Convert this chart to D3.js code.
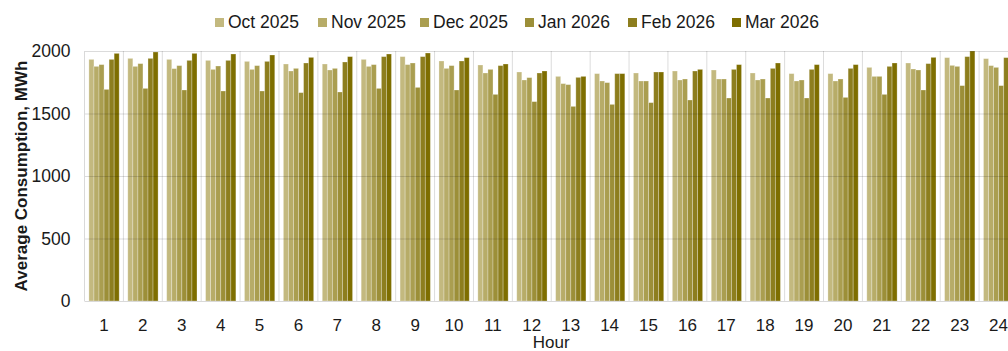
<!DOCTYPE html>
<html>
<head>
<meta charset="utf-8">
<script src="https://cdn.jsdelivr.net/npm/d3@7"></script>
<style>
  html, body { margin: 0; padding: 0; background: #fff; overflow: hidden; }
  svg { display: block; font-family: "Liberation Sans", Arial, sans-serif; }
</style>
</head>
<body>
<svg id="chart" width="1008" height="351"></svg>
<script>
// Hour-of-day categories
const hours = d3.range(1, 25).map(String);

// Series names and fills, lightest to darkest
const seriesNames = ["Oct 2025", "Nov 2025", "Dec 2025", "Jan 2026", "Feb 2026", "Mar 2026"];
const seriesColors = ["#c3b97f", "#b7ac68", "#aa9e50", "#9c8f38", "#8d7e1e", "#7e6e00"];

// Average consumption per hour (MWh)
const oct2025 = [1933, 1941, 1933, 1925, 1917, 1896, 1896, 1933, 1955, 1920, 1888, 1832, 1797, 1819, 1824, 1840, 1848, 1824, 1819, 1819, 1869, 1904, 1947, 1939];
const nov2025 = [1877, 1877, 1859, 1853, 1853, 1840, 1848, 1877, 1891, 1861, 1824, 1768, 1739, 1760, 1760, 1768, 1776, 1768, 1760, 1760, 1797, 1856, 1885, 1883];
const dec2025 = [1891, 1899, 1883, 1880, 1883, 1861, 1861, 1891, 1904, 1883, 1853, 1787, 1731, 1747, 1760, 1776, 1776, 1776, 1768, 1776, 1797, 1848, 1877, 1869];
const jan2026 = [1693, 1701, 1688, 1680, 1680, 1667, 1672, 1701, 1709, 1688, 1653, 1595, 1557, 1573, 1587, 1608, 1624, 1624, 1624, 1629, 1653, 1688, 1723, 1723];
const feb2026 = [1933, 1941, 1925, 1925, 1917, 1904, 1912, 1955, 1955, 1920, 1883, 1824, 1789, 1819, 1832, 1840, 1853, 1861, 1853, 1861, 1877, 1899, 1955, 1947];
const mar2026 = [1981, 1992, 1981, 1976, 1968, 1949, 1955, 1976, 1984, 1947, 1896, 1840, 1797, 1819, 1832, 1853, 1891, 1904, 1891, 1891, 1904, 1949, 2000, 1990];

const seriesValues = [oct2025, nov2025, dec2025, jan2026, feb2026, mar2026];
const yTicks = [0, 500, 1000, 1500, 2000];

const svg = d3.select("#chart");
const plot = { left: 84.5, right: 1018, top: 51, bottom: 301 };

const x0 = d3.scaleBand().domain(hours).range([plot.left, plot.right]).padding(0);
const step = x0.bandwidth();
const x1 = d3.scaleBand().domain(seriesNames).range([4.4, step - 4.2]).padding(0);
const y = d3.scaleLinear().domain([0, 2000]).range([plot.bottom, plot.top]);
const color = d3.scaleOrdinal().domain(seriesNames).range(seriesColors);

// Bars
const groups = svg.append("g").selectAll("g")
  .data(hours)
  .join("g")
  .attr("transform", d => `translate(${x0(d)},0)`);

groups.selectAll("rect")
  .data((h, i) => seriesNames.map((s, k) => ({ s, v: seriesValues[k][i] })))
  .join("rect")
  .attr("x", d => x1(d.s))
  .attr("width", x1.bandwidth())
  .attr("y", d => y(d.v))
  .attr("height", d => y(0) - y(d.v))
  .attr("fill", d => color(d.s))
  .attr("stroke", "rgba(255,255,255,0.35)")
  .attr("stroke-width", 0.8);

// Gridlines drawn over the bars, semi-transparent
const grid = svg.append("g");
grid.selectAll("line.h")
  .data(yTicks.filter(t => t > 0))
  .join("line")
  .attr("x1", plot.left).attr("x2", plot.right)
  .attr("y1", d => y(d) + 0.5).attr("y2", d => y(d) + 0.5)
  .attr("stroke", "rgba(0,0,0,0.14)")
  .attr("stroke-width", 1);

grid.selectAll("line.v")
  .data(hours.slice(1))
  .join("line")
  .attr("x1", d => x0(d)).attr("x2", d => x0(d))
  .attr("y1", plot.top).attr("y2", plot.bottom)
  .attr("stroke", "rgba(0,0,0,0.14)")
  .attr("stroke-width", 1);

// Plot border on the left and bottom
svg.append("line")
  .attr("x1", plot.left).attr("x2", plot.left)
  .attr("y1", plot.top).attr("y2", plot.bottom)
  .attr("stroke", "#d9d9d9");
svg.append("line")
  .attr("x1", plot.left).attr("x2", plot.right)
  .attr("y1", plot.bottom + 0.5).attr("y2", plot.bottom + 0.5)
  .attr("stroke", "#d9d9d9");

// Y axis
const yAxis = svg.append("g")
  .attr("transform", `translate(${plot.left - 14},0)`)
  .call(d3.axisLeft(y).tickValues(yTicks).tickSize(0).tickPadding(0).tickFormat(d3.format("d")));
yAxis.select(".domain").remove();
yAxis.selectAll("text")
  .attr("font-size", 17.5)
  .attr("fill", "#1a1a1a")
  .attr("font-family", "Liberation Sans, Arial, sans-serif");

// X axis
const xAxis = svg.append("g")
  .attr("transform", `translate(0,${plot.bottom})`)
  .call(d3.axisBottom(x0).tickSize(0).tickPadding(18));
xAxis.select(".domain").remove();
xAxis.selectAll("text")
  .attr("font-size", 17)
  .attr("fill", "#1a1a1a")
  .attr("font-family", "Liberation Sans, Arial, sans-serif");

// Axis titles
svg.append("text")
  .attr("x", (plot.left + plot.right) / 2)
  .attr("y", 348)
  .attr("text-anchor", "middle")
  .attr("font-size", 17)
  .attr("fill", "#1a1a1a")
  .text("Hour");

svg.append("text")
  .attr("transform", `translate(27,${(plot.top + plot.bottom) / 2}) rotate(-90)`)
  .attr("text-anchor", "middle")
  .attr("font-size", 17)
  .attr("font-weight", "bold")
  .attr("fill", "#1a1a1a")
  .text("Average Consumption, MWh");

// Legend
const legendX = [215, 318, 420, 525, 628, 732];
const legend = svg.append("g").selectAll("g")
  .data(seriesNames)
  .join("g")
  .attr("transform", (d, i) => `translate(${legendX[i]},18)`);
legend.append("rect")
  .attr("width", 9).attr("height", 9)
  .attr("fill", d => color(d));
legend.append("text")
  .attr("x", 13).attr("y", 10)
  .attr("font-size", 17.5)
  .attr("fill", "#1a1a1a")
  .text(d => d);
</script>
</body>
</html>
